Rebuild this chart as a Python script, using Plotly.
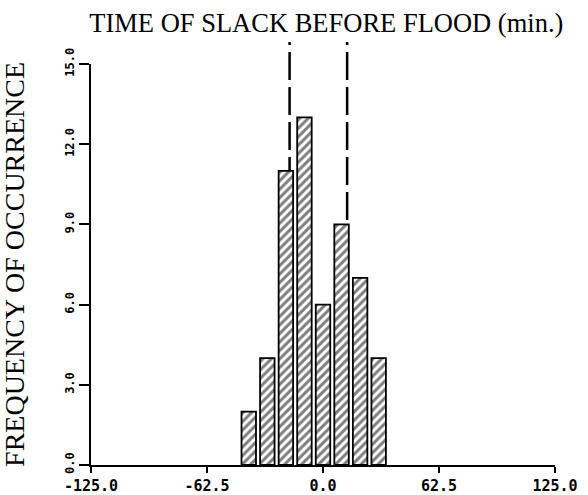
import plotly.graph_objects as go

bin_centers = [-40, -30, -20, -10, 0, 10, 20, 30]
frequency = [2, 4, 11, 13, 6, 9, 7, 4]
dashed_x = [-18, 13]
x_ticks = [-125.0, -62.5, 0.0, 62.5, 125.0]
x_tick_labels = ["-125.0", "-62.5", "0.0", "62.5", "125.0"]
y_ticks = [0, 3, 6, 9, 12, 15]
y_tick_labels = ["0.0", "3.0", "6.0", "9.0", "12.0", "15.0"]

fig = go.Figure()
fig.add_trace(go.Bar(
    x=bin_centers, y=frequency, width=7.8,
    marker=dict(color="white", line=dict(color="black", width=1.8),
                pattern=dict(shape="/", fgcolor="black", bgcolor="white", size=6, solidity=0.5)),
))
for xv in dashed_x:
    fig.add_shape(type="line", xref="x", yref="paper", x0=xv, x1=xv, y0=0, y1=1.055,
                  line=dict(color="black", width=2.5, dash="28px,7px"), layer="below")

fig.add_annotation(text="FREQUENCY OF OCCURRENCE", xref="paper", yref="paper",
                   x=-0.165, y=0.5, xanchor="center", yanchor="middle", textangle=-90,
                   showarrow=False, font=dict(family="Liberation Serif", size=28, color="black"))

fig.update_layout(
    width=588, height=495,
    margin=dict(l=91, r=33, t=64, b=30),
    paper_bgcolor="white", plot_bgcolor="white",
    showlegend=False,
    title=dict(text="TIME OF SLACK BEFORE FLOOD (min.)", x=0.555, xanchor="center", y=0.955, yanchor="middle",
               font=dict(family="Liberation Serif", size=26.5, color="black")),
    xaxis=dict(range=[-125, 125], tickvals=x_ticks, ticktext=x_tick_labels, automargin=False,
               showline=True, linecolor="black", linewidth=2, ticks="outside", ticklen=6, tickwidth=2,
               tickcolor="black", showgrid=False, zeroline=False,
               tickfont=dict(family="DejaVu Sans Mono", size=15, color="black", weight="bold")),
    yaxis=dict(range=[0, 15], tickvals=y_ticks, ticktext=y_tick_labels, tickangle=-90, automargin=False,
               showline=True, linecolor="black", linewidth=2, ticks="outside", ticklen=10, tickwidth=2,
               tickcolor="black", showgrid=False, zeroline=False,
               tickfont=dict(family="DejaVu Sans Mono", size=12, color="black", weight="bold")),
)
fig.write_html("out.html")
